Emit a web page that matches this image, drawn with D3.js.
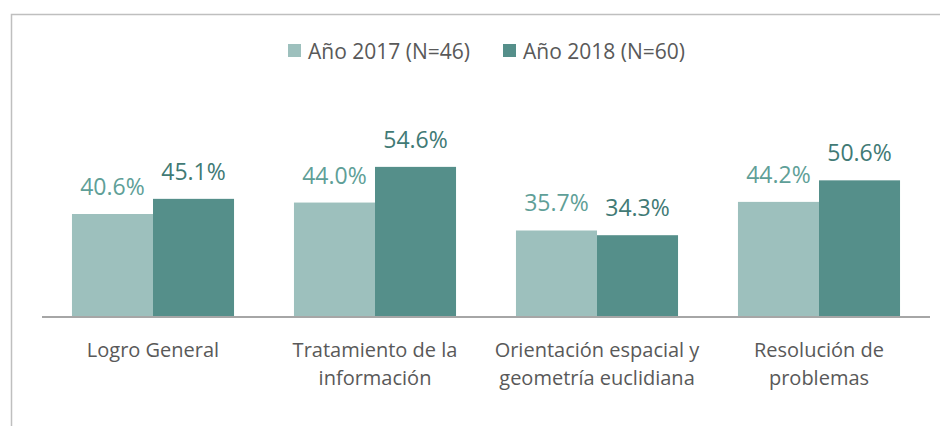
<!DOCTYPE html>
<html>

<head>
    <meta charset=utf-8 />
    <script src="https://cdn.jsdelivr.net/npm/d3@7"></script>
    <title>logro</title>
    <style>
        html,
        body {
            margin: 0;
            padding: 0;
            background: #fff;
        }

        text {
            font-family: "Open Sans", "Noto Sans", sans-serif;
        }
    </style>
</head>

<body>
    <div id="svg-canvas"></div>
    <script>
        var width = 940;
        var height = 426;

        var series = [
            { key: 'a2017', name: 'Año 2017 (N=46)', fill: '#9dc0bd', label: '#5f9f98' },
            { key: 'a2018', name: 'Año 2018 (N=60)', fill: '#558f8a', label: '#417a75' }
        ];

        var data = [
            { cat: ['Logro General'], a2017: 40.6, a2018: 45.1 },
            { cat: ['Tratamiento de la', 'información'], a2017: 44.0, a2018: 54.6 },
            { cat: ['Orientación espacial y', 'geometría euclidiana'], a2017: 35.7, a2018: 34.3 },
            { cat: ['Resolución de', 'problemas'], a2017: 44.2, a2018: 50.6 }
        ];

        var svg = d3.select('#svg-canvas').append('svg')
            .attr('width', width)
            .attr('height', height);

        // frame (left + top only visible)
        svg.append('path')
            .attr('d', 'M11.5,' + height + 'V14.5H' + width)
            .attr('fill', 'none')
            .attr('stroke', '#bfbfbf')
            .attr('stroke-width', 1.5);

        var x0 = d3.scaleBand()
            .domain(data.map((d, i) => i))
            .range([42, 930])
            .paddingInner(0.27)
            .paddingOuter(0.135);

        var x1 = d3.scaleBand()
            .domain(series.map(s => s.key))
            .range([0, x0.bandwidth()]);

        var y = d3.scaleLinear()
            .domain([10, 60])
            .range([317, 148.7]);

        var groups = svg.selectAll('.grp')
            .data(data)
            .enter().append('g')
            .attr('class', 'grp')
            .attr('transform', (d, i) => 'translate(' + x0(i) + ',0)');

        groups.selectAll('rect')
            .data(d => series.map(s => ({ s: s, v: d[s.key] })))
            .enter().append('rect')
            .attr('x', d => x1(d.s.key))
            .attr('width', x1.bandwidth())
            .attr('y', d => y(d.v))
            .attr('height', d => y(10) - y(d.v))
            .attr('fill', d => d.s.fill);

        groups.selectAll('.val')
            .data(d => series.map(s => ({ s: s, v: d[s.key] })))
            .enter().append('text')
            .attr('class', 'val')
            .attr('x', d => x1(d.s.key) + x1.bandwidth() / 2)
            .attr('y', d => y(d.v) - 19)
            .attr('text-anchor', 'middle')
            .attr('font-size', '23px')
            .attr('fill', d => d.s.label)
            .text(d => d.v.toFixed(1) + '%');

        // category axis
        var axis = svg.append('g')
            .attr('transform', 'translate(0,317)')
            .call(d3.axisBottom(x0).tickSize(0).tickFormat(''));

        axis.select('.domain')
            .attr('stroke', '#a6a6a6')
            .attr('stroke-width', 2)
            .attr('d', 'M42,0H930');

        axis.selectAll('.tick text').remove();
        axis.selectAll('.tick')
            .append('text')
            .attr('fill', '#595959')
            .attr('font-size', '20px')
            .attr('text-anchor', 'middle')
            .selectAll('tspan')
            .data(i => data[i].cat)
            .enter().append('tspan')
            .attr('x', 0)
            .attr('y', (d, j) => 40 + j * 28)
            .text(d => d);

        // legend
        var legX = [288, 503];
        var leg = svg.selectAll('.leg')
            .data(series)
            .enter().append('g')
            .attr('class', 'leg')
            .attr('transform', (d, i) => 'translate(' + legX[i] + ',44)');

        leg.append('rect')
            .attr('width', 13)
            .attr('height', 13)
            .attr('fill', d => d.fill);

        leg.append('text')
            .attr('x', 20)
            .attr('y', 14.5)
            .attr('font-size', '21px')
            .attr('fill', '#595959')
            .text(d => d.name);
    </script>
</body>

</html>
